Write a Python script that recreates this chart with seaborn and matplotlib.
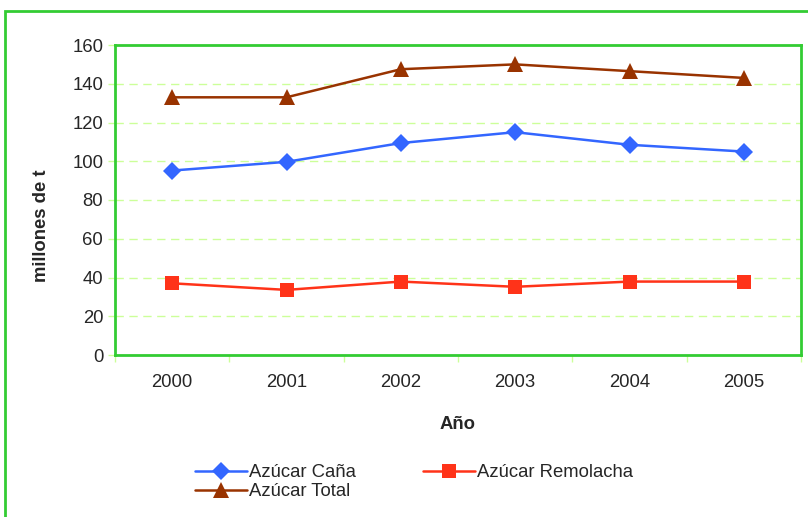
import matplotlib.pyplot as plt
import pandas as pd
import seaborn as sns
from matplotlib.patches import Rectangle
from matplotlib.ticker import FixedLocator

years = ["2000", "2001", "2002", "2003", "2004", "2005"]
cana = [95.2, 99.7, 109.4, 115.0, 108.5, 105.0]
remolacha = [37.0, 33.6, 37.9, 35.2, 37.9, 37.9]
total = [133.0, 133.0, 147.5, 150.0, 146.5, 143.0]

series_names = ["Azúcar Caña", "Azúcar Total", "Azúcar Remolacha"]
series_values = [cana, total, remolacha]

rows = []
for name, vals in zip(series_names, series_values):
    for y, v in zip(years, vals):
        rows.append({"Año": y, "valor": v, "serie": name})
df = pd.DataFrame(rows)

sns.set_style("white")
plt.rcParams["font.family"] = ["Liberation Sans", "DejaVu Sans"]

fs = 13.3
fig = plt.figure(figsize=(8.08, 5.17), dpi=100)
ax = fig.add_axes([115 / 808, 162 / 517, 686 / 808, 310 / 517])

palette = {"Azúcar Caña": "#3366ff", "Azúcar Total": "#993300", "Azúcar Remolacha": "#ff3319"}
markers = {"Azúcar Caña": "D", "Azúcar Total": "^", "Azúcar Remolacha": "s"}
dashes = {k: "" for k in series_names}

sns.lineplot(
    data=df, x="Año", y="valor", hue="serie", style="serie",
    hue_order=series_names, style_order=series_names,
    palette=palette, markers=markers, dashes=dashes,
    markersize=9.5, markeredgewidth=0, linewidth=1.8, ax=ax,
)

ax.set_xlim(-0.5, 5.5)
ax.set_ylim(0, 160)
ax.set_yticks(range(0, 161, 20))
ax.yaxis.grid(True, color="#ccff99", linestyle=(0, (6, 4)), linewidth=1)
ax.xaxis.grid(False)
for s in ax.spines.values():
    s.set_color("#33cc33")
    s.set_linewidth(2)

ax.xaxis.set_minor_locator(FixedLocator([i - 0.5 for i in range(7)]))
ax.tick_params(axis="x", which="major", length=0, labelsize=fs, pad=14)
ax.tick_params(axis="x", which="minor", length=5, color="#ccff99", width=1, bottom=True)
ax.tick_params(axis="y", length=5, color="#ccff99", width=1, labelsize=fs, left=True)

ax.set_xlabel("Año", fontsize=fs, fontweight="bold", labelpad=18)
ax.set_ylabel("millones de t", fontsize=fs, fontweight="bold")
ax.yaxis.set_label_coords(-0.095, 0.416)

# bigger triangles, like the original
for line in ax.lines:
    if line.get_marker() == "^":
        line.set_markersize(12)
handles, labels = ax.get_legend_handles_labels()
for h in handles:
    if h.get_marker() == "^":
        h.set_markersize(12)

ax.legend(
    handles, labels,
    loc="upper left", bbox_to_anchor=(80 / 686, -0.353), ncol=2,
    frameon=False, fontsize=fs, handlelength=2.8, handletextpad=0.15,
    columnspacing=3.6, labelspacing=0.1, borderaxespad=0, borderpad=0,
)

fig.patches.append(Rectangle((5 / 808, -0.1), 1.2, 1 - 11 / 517 + 0.1,
                             transform=fig.transFigure, fill=False,
                             edgecolor="#33cc33", linewidth=2))

fig.savefig("out.png", dpi=100)
